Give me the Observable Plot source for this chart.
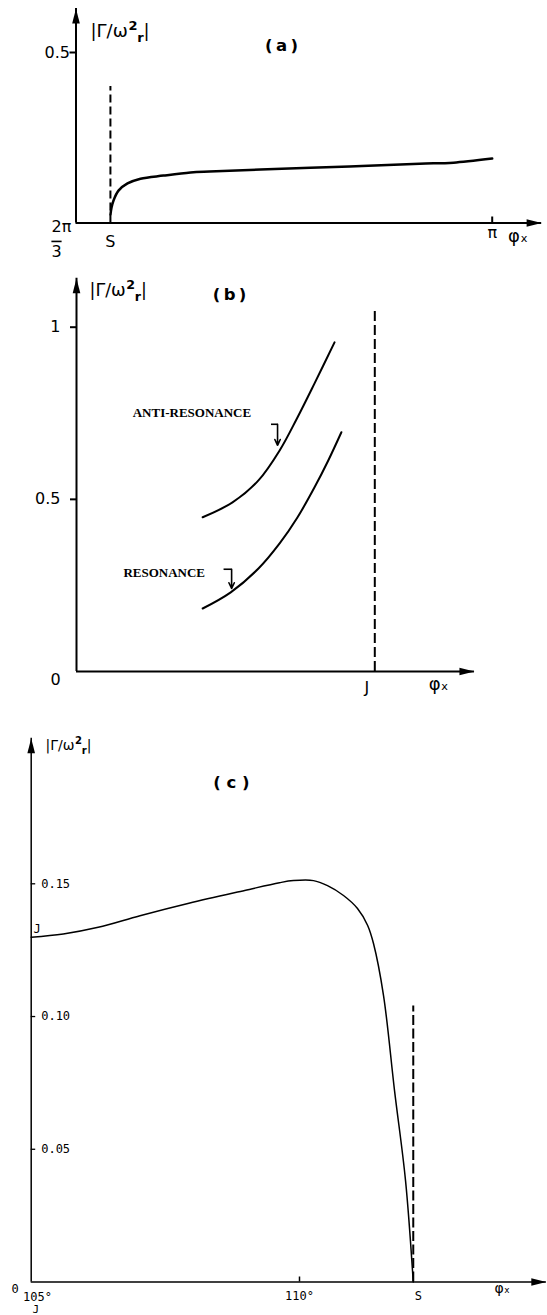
<!DOCTYPE html>
<html>
<head>
<meta charset="utf-8">
<script src="https://cdn.jsdelivr.net/npm/d3@7"></script>
<script src="https://cdn.jsdelivr.net/npm/@observablehq/plot@0.6"></script>
<style>
  body { margin: 0; background: #fff; }
  #fig { width: 547px; height: 1315px; overflow: hidden; background: #fff; }
  #fig svg { display: block; }
</style>
</head>
<body>
<div id="fig"></div>
<script>
// ---------- data ----------
const THIRD = 2 * Math.PI / 3;
const gammaLabel = "|Γ/ω²ᵣ|";

// (a) φx in radians, from 2π/3 to π
const aPhi   = [2.1812, 2.1837, 2.1888, 2.2013, 2.2240, 2.2567, 2.3146, 2.3825, 2.4303, 2.5587, 2.7826, 2.9588, 3.0443, 3.1416];
const aGamma = [0.025, 0.045, 0.066, 0.095, 0.116, 0.130, 0.139, 0.148, 0.151, 0.157, 0.166, 0.174, 0.177, 0.189];
const aS = 2.181;
const aDashTop = 0.40;
const aAxisEnd = {x: 3.266, y: 0.629};

// (b) φx in units where J = 1
const bAntiPhi   = [0.423, 0.523, 0.610, 0.681, 0.739, 0.798, 0.865];
const bAntiGamma = [0.448, 0.491, 0.555, 0.642, 0.735, 0.837, 0.956];
const bResPhi    = [0.423, 0.517, 0.610, 0.681, 0.739, 0.798, 0.844, 0.888];
const bResGamma  = [0.183, 0.230, 0.299, 0.372, 0.445, 0.535, 0.613, 0.695];
const bJ = 1;
const bDashTop = 1.055;
const bAxisEnd = {x: 1.334, y: 1.142};
const bNotes = [
  {text: "ANTI-RESONANCE", x: 0.387, y: 0.750},
  {text: "RESONANCE",      x: 0.294, y: 0.288}
];
const bHooks = [
  {x1: 0.652, x2: 0.674, y1: 0.718, y2: 0.657},
  {x1: 0.493, x2: 0.520, y1: 0.297, y2: 0.241}
];

// (c) φx in degrees
const cPhi   = [105.000, 105.598, 106.249, 107.028, 107.939, 108.979, 109.627, 109.888, 110.261, 110.522, 110.820, 111.081, 111.268, 111.379, 111.566, 111.771, 111.976, 112.120];
const cGamma = [0.1299, 0.1311, 0.1336, 0.1380, 0.1427, 0.1475, 0.1504, 0.1512, 0.1512, 0.1493, 0.1456, 0.1407, 0.1344, 0.1275, 0.1079, 0.0721, 0.0382, 0.0000];
const cS = 112.12;
const cDashTop = 0.104;
const cAxisEnd = {x: 114.6, y: 0.2048};
const cTicksY = [0.05, 0.10, 0.15];
const cTicksX = [110];

const pts = (xs, ys) => xs.map((x, i) => ({x, y: ys[i]}));
const sans = "DejaVu Sans";
const mono = "DejaVu Sans Mono";

// axis lines ending in solid arrowheads
function axisArrows(x0, end, w) {
  return [
    Plot.ruleX([x0], {y1: 0, y2: end.y, strokeWidth: w}),
    Plot.ruleY([0], {x1: x0, x2: end.x, strokeWidth: w}),
    Plot.vector([0], {x: x0, y: end.y, rotate: 0, length: 15, r: 3.8, shape: "spike", anchor: "end", fill: "black", stroke: "none"}),
    Plot.vector([0], {x: end.x, y: 0, rotate: 90, length: 15, r: 3.8, shape: "spike", anchor: "end", fill: "black", stroke: "none"})
  ];
}
const label = (t, o) => Plot.text([t], {text: d => d, ...o});

// ---------- (a) ----------
const plotA = Plot.plot({
  width: 547, height: 255,
  marginLeft: 75.5, marginRight: 55.3, marginTop: 52, marginBottom: 32.5,
  x: {domain: [THIRD, Math.PI]},
  y: {domain: [0, 0.5]},
  style: {fontFamily: sans, background: "white", color: "black", overflow: "visible"},
  marks: [
    Plot.axisY({ticks: [0.5], tickSize: 6, tickPadding: 0, tickFormat: () => "0.5", fontSize: 16, strokeWidth: 2, label: null}),
    Plot.axisX({ticks: [Math.PI], tickSize: -6, tickPadding: 9.4, tickFormat: () => "π", fontSize: 16, strokeWidth: 2, label: null}),
    ...axisArrows(THIRD, aAxisEnd, 2),
    Plot.ruleX([aS], {y1: 0, y2: aDashTop, strokeWidth: 2, strokeDasharray: "8,4"}),
    Plot.line(pts(aPhi, aGamma), {x: "x", y: "y", curve: "catmull-rom", strokeWidth: 2.5}),
    label(gammaLabel, {x: THIRD, y: 0.5, dx: 14.5, dy: -21, textAnchor: "start", fontSize: 18}),
    label("(\u2009a\u2009)", {x: 2.6115, y: 0.5, dy: -6.5, fontSize: 16.5, fontWeight: "bold"}),
    label("2π", {x: THIRD, y: 0, dx: -14.5, dy: 3.5, fontSize: 16}),
    label("3", {x: THIRD, y: 0, dx: -19.5, dy: 28.5, fontSize: 16}),
    label("S", {x: aS, y: 0, dy: 18.5, fontSize: 16}),
    label("φₓ", {x: 3.2066, y: 0, dy: 13, fontSize: 18})
  ]
});

// ---------- (b) ----------
const plotB = Plot.plot({
  width: 547, height: 445,
  marginLeft: 76, marginRight: 172.7, marginTop: 71.7, marginBottom: 29,
  x: {domain: [0, bJ], axis: null},
  y: {domain: [0, 1]},
  style: {fontFamily: sans, background: "white", color: "black", overflow: "visible"},
  marks: [
    Plot.axisY({ticks: [0.5, 1], tickSize: 6, tickPadding: 10, tickFormat: d => d === 1 ? "1" : "0.5", fontSize: 16, strokeWidth: 2, label: null}),
    ...axisArrows(0, bAxisEnd, 2),
    Plot.ruleX([bJ], {y1: 0, y2: bDashTop, strokeWidth: 2, strokeDasharray: "10,4"}),
    Plot.line(pts(bAntiPhi, bAntiGamma), {x: "x", y: "y", curve: "catmull-rom", strokeWidth: 2}),
    Plot.line(pts(bResPhi, bResGamma), {x: "x", y: "y", curve: "catmull-rom", strokeWidth: 2}),
    Plot.text(bNotes, {x: "x", y: "y", text: "text", fontFamily: "Liberation Serif", fontWeight: "bold", fontSize: 13}),
    Plot.link(bHooks, {x1: "x1", x2: "x2", y1: "y1", y2: "y1", strokeWidth: 1.6}),
    Plot.arrow(bHooks, {x1: "x2", x2: "x2", y1: "y1", y2: "y2", strokeWidth: 1.6, headLength: 6, headAngle: 50}),
    label(gammaLabel, {x: 0, y: 1, dx: 13, dy: -36.7, textAnchor: "start", fontSize: 17.5}),
    label("(\u2009b\u2009)", {x: 0.513, y: 1, dy: -32.7, fontSize: 16.5, fontWeight: "bold"}),
    label("0", {x: 0, y: 0, dx: -21, dy: 8, fontSize: 16}),
    label("J", {x: bJ, y: 0, dx: -8, dy: 16, fontSize: 16}),
    label("φₓ", {x: 1.214, y: 0, dy: 13, fontSize: 18})
  ]
});

// ---------- (c) ----------
const plotC = Plot.plot({
  width: 547, height: 615,
  marginLeft: 30.7, marginRight: 248, marginTop: 183.3, marginBottom: 33.5,
  x: {domain: [105, 110]},
  y: {domain: [0, 0.15]},
  style: {fontFamily: sans, background: "white", color: "black", overflow: "visible"},
  marks: [
    Plot.axisY({ticks: cTicksY, tickSize: -4.5, tickPadding: -5.5, textAnchor: "start", tickFormat: d3.format(".2f"), fontFamily: mono, fontSize: 12, strokeWidth: 1.3, label: null}),
    Plot.axisX({ticks: cTicksX, tickSize: -5, tickPadding: 14.5, tickFormat: d => d + "°", fontFamily: mono, fontSize: 12, strokeWidth: 1.5, label: null}),
    ...axisArrows(105, cAxisEnd, 1.5),
    Plot.ruleX([cS], {y1: 0, y2: cDashTop, strokeWidth: 2, strokeDasharray: "10,3.5"}),
    Plot.line(pts(cPhi, cGamma), {x: "x", y: "y", curve: "catmull-rom", strokeWidth: 1.5}),
    label(gammaLabel, {x: 105, y: 0.15, dx: 14.3, dy: -138.3, textAnchor: "start", fontSize: 14}),
    label("( c )", {x: 108.73, y: 0.15, dy: -101.3, fontSize: 16.5, fontWeight: "bold"}),
    label("0", {x: 105, y: 0, dx: -16, dy: 7.5, fontFamily: mono, fontSize: 12}),
    label("105°", {x: 105, y: 0, dx: 6.3, dy: 15.5, fontFamily: mono, fontSize: 12}),
    label("J", {x: 105, y: 0, dx: 4.5, dy: 27.5, fontFamily: mono, fontSize: 11}),
    label("J", {x: 105, y: cGamma[0], dx: 6, dy: -8, fontFamily: mono, fontSize: 12}),
    label("S", {x: cS, y: 0, dx: 5, dy: 14.5, fontFamily: mono, fontSize: 12}),
    label("φₓ", {x: 113.78, y: 0, dy: 7, fontSize: 14})
  ]
});

// ω² with a bold superscript 2 and subscript r
function richGamma(svg) {
  const ns = "http://www.w3.org/2000/svg";
  svg.querySelectorAll("text").forEach(t => {
    if (t.textContent !== gammaLabel) return;
    t.textContent = "";
    const parts = [
      ["|Γ/ω", {}],
      ["2", {"font-weight": "bold", "font-size": "0.72em", dy: "-0.55em", dx: "0.05em"}],
      ["r", {"font-weight": "bold", "font-size": "0.72em", dy: "0.9em", dx: "-0.02em"}],
      ["|", {dy: "-0.25em"}]
    ];
    for (const [s, attrs] of parts) {
      const sp = document.createElementNS(ns, "tspan");
      for (const [k, v] of Object.entries(attrs)) sp.setAttribute(k, v);
      sp.textContent = s;
      t.appendChild(sp);
    }
  });
}
// fraction bar over the 3 of 2π/3
plotA.querySelectorAll("text").forEach(t => {
  if (t.textContent === "3") t.style.textDecoration = "overline";
});
[plotA, plotB, plotC].forEach(richGamma);

document.getElementById("fig").append(plotA, plotB, plotC);
</script>
</body>
</html>
